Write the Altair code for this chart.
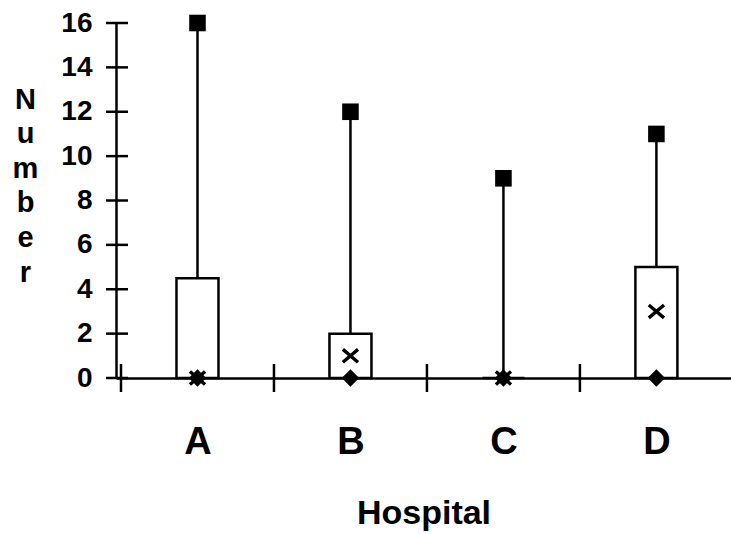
import altair as alt
import pandas as pd

# Per-hospital summary statistics
hospitals = ["A", "B", "C", "D"]
minimum = [0, 0, 0, 0]
lower_q = [0, 0, 0, 0]
median = [0, 1, 0, 3]
upper_q = [4.5, 2, 0, 5]
maximum = [16, 12, 9, 11]

y_ticks = [0, 2, 4, 6, 8, 10, 12, 14, 16]

FONT = "Liberation Sans"
W, H = 615, 355

df = pd.DataFrame({
    "hospital": hospitals,
    "pos": [i + 0.5 for i in range(len(hospitals))],
    "min": minimum,
    "q1": lower_q,
    "median": median,
    "q3": upper_q,
    "max": maximum,
})
ytick_df = pd.DataFrame({"v": y_ticks})
# category separators (position 0 doubles as the axis overhang below zero)
xtick_df = pd.DataFrame({"v": list(range(len(hospitals)))})

label_js = "[" + ",".join(f"'{h}'" for h in hospitals) + "]"

xscale = alt.Scale(domain=[0, 3.955], nice=False, zero=False)
yscale = alt.Scale(domain=[0, 16], nice=False)

x_axis = alt.Axis(
    values=[p for p in df["pos"]],
    labelExpr=f"{label_js}[floor(datum.value)]",
    ticks=False, tickSize=0, grid=False,
    domainColor="black", domainWidth=2.5,
    labelFont=FONT, labelFontSize=38, labelFontWeight="bold", labelColor="black",
    labelPadding=45, labelAngle=0,
    title="Hospital", titleFont=FONT, titleFontSize=34, titleFontWeight="bold",
    titleColor="black", titleBaseline="alphabetic", titleY=145,
)
y_axis = alt.Axis(
    values=y_ticks,
    ticks=False, tickSize=0, grid=False,
    domainColor="black", domainWidth=2.5,
    labelFont=FONT, labelFontSize=28, labelFontWeight="bold", labelColor="black",
    labelPadding=24,
    title=["N", "u", "m", "b", "e", "r"], titleAngle=0,
    titleFont=FONT, titleFontSize=29, titleFontWeight="bold", titleColor="black",
    titleAlign="center", titleBaseline="alphabetic",
    titleX=-91, titleY=85, titleLineHeight=34.6,
)

base = alt.Chart(df)

# tick marks crossing the axes
yticks = alt.Chart(ytick_df).mark_rule(color="black", strokeWidth=2.5).encode(
    y=alt.Y("v:Q", scale=yscale, axis=y_axis),
    x=alt.value(-10), x2=alt.value(12),
)
xticks = alt.Chart(xtick_df).mark_rule(color="black", strokeWidth=2.5).encode(
    x=alt.X("v:Q", scale=xscale, axis=x_axis),
    y=alt.value(H - 14), y2=alt.value(H + 14),
)

boxes = base.mark_bar(size=42, fill="white", stroke="black", strokeWidth=2.5).encode(
    x=alt.X("pos:Q", scale=xscale),
    y=alt.Y("q1:Q", scale=yscale),
    y2="q3:Q",
)
whiskers = base.mark_rule(color="black", strokeWidth=2.5).encode(
    x=alt.X("pos:Q", scale=xscale),
    y=alt.Y("q3:Q", scale=yscale),
    y2="max:Q",
)
mins = base.mark_point(shape="diamond", filled=True, size=300, color="black", opacity=1).encode(
    x=alt.X("pos:Q", scale=xscale),
    y=alt.Y("min:Q", scale=yscale),
)
medians = base.mark_point(
    shape="M-1,-0.85L1,0.85M-1,0.85L1,-0.85",
    filled=False, size=230, color="black", strokeWidth=3.4, opacity=1,
).encode(
    x=alt.X("pos:Q", scale=xscale),
    y=alt.Y("median:Q", scale=yscale),
)
maxes = base.mark_point(shape="square", filled=True, size=275, color="black", opacity=1).encode(
    x=alt.X("pos:Q", scale=xscale),
    y=alt.Y("max:Q", scale=yscale),
)

chart = alt.layer(yticks, xticks, boxes, whiskers, mins, medians, maxes).properties(
    width=W,
    height=H,
    autosize=alt.AutoSizeParams(type="none"),
    padding={"left": 116, "top": 23, "right": 0, "bottom": 156},
    background="white",
).configure_view(stroke=None)

chart.save("out.html", embed_options={"renderer": "svg", "actions": False})
